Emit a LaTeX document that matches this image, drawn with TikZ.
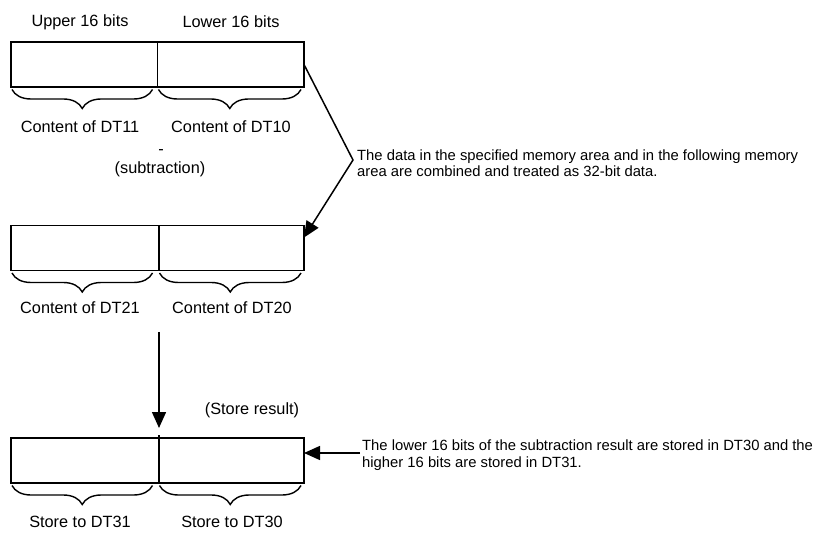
\documentclass[tikz,border=0pt]{standalone}
\usepackage{fontspec}
\setmainfont{Liberation Sans}
\usetikzlibrary{arrows.meta,decorations.pathreplacing,calc}
\begin{document}
\begin{tikzpicture}[x=1pt,y=-1pt,
  regbox/.style={draw,line width=1.9pt,minimum width=293pt,minimum height=45pt,inner sep=0pt,outer sep=0pt},
  divider/.style={line width=1.3pt},
  lbl/.style={font=\fontsize{16.3}{19}\selectfont,inner sep=0pt},
  note/.style={font=\fontsize{14.8}{16.5}\selectfont,align=left,anchor=west,inner sep=0pt},
  brc/.style={decorate,decoration={brace,mirror,amplitude=19pt},line width=1.4pt},
  conn/.style={line width=1.5pt},
  tipend/.style={-{Triangle[length=16pt,width=14pt]}}
]
\useasboundingbox (0,0) rectangle (832,534);

% top register
\node[lbl] (u1) at (80,22) {Upper 16 bits};
\node[lbl] (l1) at (231,22) {Lower 16 bits};
\node[regbox] (b1) at (157.5,64.5) {};
\draw[divider] (b1.north) -- (b1.south);
\draw[brc] ($(b1.south west)+(1,2.5)$) -- ($(b1.south)+(-5,2.5)$);
\draw[brc] ($(b1.south)+(1,2.5)$) -- ($(b1.south east)+(-3,2.5)$);
\node[lbl] (c11) at (80,127) {Content of DT11};
\node[lbl] (c10) at (231,127) {Content of DT10};

\node[lbl] (minus) at (161,152) {-};
\node[lbl] (sub) at (160,169) {(subtraction)};

% second register
\node[regbox] (b2) at (157.5,248) {};
\draw[divider] ($(b2.north)+(1.5,0)$) -- ($(b2.south)+(1.5,0)$);
\draw[brc] ($(b2.south west)+(1,2.5)$) -- ($(b2.south)+(-5,2.5)$);
\draw[brc] ($(b2.south)+(2,2.5)$) -- ($(b2.south east)+(-3,2.5)$);
\node[lbl] (c21) at (80,308) {Content of DT21};
\node[lbl] (c20) at (232,308) {Content of DT20};

% arrow down
\coordinate (a0) at (159,332);
\coordinate (a1) at (159,428);
\draw[conn,tipend] (a0) -- (a1);
\node[lbl] (sr) at (252,410) {(Store result)};

% third register
\node[regbox] (b3) at (157.5,460.5) {};
\draw[divider] ($(b3.north)+(1.5,-3)$) -- ($(b3.south)+(1.5,0)$);
\draw[brc] ($(b3.south west)+(1,2.5)$) -- ($(b3.south)+(-5,2.5)$);
\draw[brc] ($(b3.south)+(2,2.5)$) -- ($(b3.south east)+(-3,2.5)$);
\node[lbl] (s31) at (80,522) {Store to DT31};
\node[lbl] (s30) at (232,522) {Store to DT30};

% upper note
\coordinate (v1) at (353,160);
\node[note] (n1) at (357,163) {The data in the specified memory area and in the following memory\\area are combined and treated as 32-bit data.};
\draw[conn,tipend] (b1.east) -- (v1) -- ($(b2.north east)+(0,12)$);

% lower note
\node[note] (n2) at (362,455) {The lower 16 bits of the subtraction result are stored in DT30 and the\\higher 16 bits are stored in DT31.};
\coordinate (c2) at (360,453);
\draw[conn,tipend] (c2) -- (c2 -| b3.east);
\end{tikzpicture}
\end{document}
